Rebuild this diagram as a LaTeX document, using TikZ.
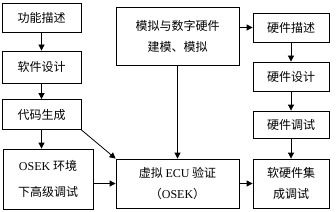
\documentclass[tikz,border=0pt]{standalone}
\usepackage{fontspec}
\setmainfont{Liberation Serif}
\newfontfamily\cjk{Noto Sans CJK SC}
\usetikzlibrary{arrows.meta}
\begin{document}
\begin{tikzpicture}[x=1pt,y=-1pt,
  box/.style={draw=black,line width=0.8pt,rectangle,inner sep=0pt,align=center,
    font=\fontsize{12}{21}\selectfont\cjk},
  arr/.style={draw=black,line width=0.8pt,-{Triangle[length=6pt,width=6pt]}}]
\useasboundingbox (0,0) rectangle (336,211);
\fill[white] (0,0) rectangle (336,211);
% left column
\node[box,minimum width=79pt,minimum height=29pt] (fd) at (41.5,17.5) {功能描述};
\node[box,minimum width=79pt,minimum height=32pt] (sd) at (41.5,67) {软件设计};
\node[box,minimum width=79pt,minimum height=30pt] (cg) at (41.5,114.5) {代码生成};
\node[box,minimum width=90pt,minimum height=60pt,font=\fontsize{12}{26}\selectfont\cjk] (os) at (48,179) {{\rmfamily OSEK} 环境\\下高级调试};
% middle
\node[box,minimum width=123pt,minimum height=58pt] (hm) at (177.5,36) {模拟与数字硬件\\建模、模拟};
\node[box,minimum width=123pt,minimum height=49pt] (ecu) at (177.5,183.5) {虚拟 {\rmfamily ECU} 验证\\（{\rmfamily OSEK}）};
% right column
\node[box,minimum width=76pt,minimum height=29pt] (h1) at (291,27.5) {硬件描述};
\node[box,minimum width=76pt,minimum height=29pt] (h2) at (291,76.5) {硬件设计};
\node[box,minimum width=76pt,minimum height=27pt] (h3) at (291,124.5) {硬件调试};
\node[box,minimum width=76pt,minimum height=49pt] (hs) at (291,183.5) {软硬件集\\成调试};
% arrows
\draw[arr] (fd) -- (sd);
\draw[arr] (sd) -- (cg);
\draw[arr] (cg.south) -- (cg.south |- os.north);
\draw[arr] (cg.south east) -- (ecu.north west);
\draw[arr] (os.east |- ecu.west) -- (ecu.west);
\draw[arr] (hm) -- (ecu);
\draw[arr] (hm.east |- h1.west) -- (h1.west);
\draw[arr] (h1) -- (h2);
\draw[arr] (h2) -- (h3);
\draw[arr] (h3) -- (hs);
\draw[arr] (ecu) -- (hs);
\end{tikzpicture}
\end{document}
